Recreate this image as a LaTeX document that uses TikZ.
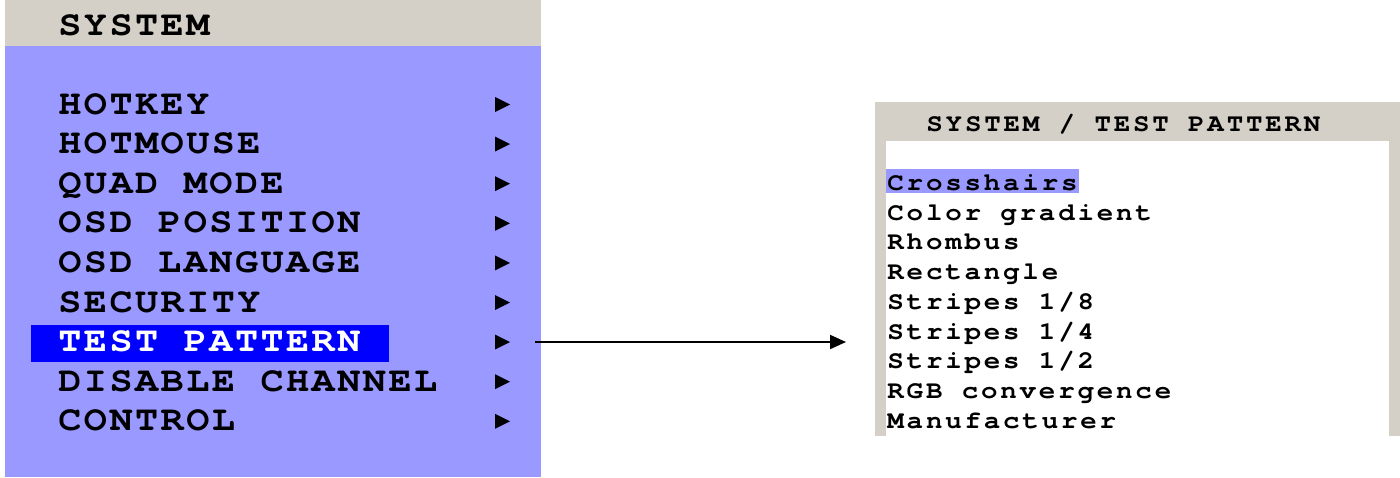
\documentclass[tikz,border=0pt]{standalone}
\usepackage{fontspec}
\usepackage{tikz}
\usetikzlibrary{arrows.meta}
\newfontfamily\osdbig{TeX Gyre Cursor}[FakeStretch=1.1,LetterSpace=7.1]
\newfontfamily\osdsmall{TeX Gyre Cursor}[FakeStretch=1.1,LetterSpace=11.2]
\definecolor{osdgray}{HTML}{D4D0C8}
\definecolor{osdblue}{HTML}{9999FF}
\definecolor{osdsel}{HTML}{0000FF}
\tikzset{
  bigitem/.style={anchor=base west,inner sep=0pt,font=\osdbig\bfseries\fontsize{17.5}{18}\selectfont},
  smallitem/.style={anchor=base west,inner sep=0pt,font=\osdsmall\bfseries\fontsize{12.5}{13}\selectfont},
  submark/.style={fill=black}
}
\begin{document}
\begin{tikzpicture}[x=0.5pt,y=-0.5pt]
				\useasboundingbox (0,0) rectangle (1400,477);
				% main menu
				\fill[osdgray] (5,0) rectangle (541,46);
				\fill[osdblue] (5,46) rectangle (541,477);
				\fill[osdsel] (31,325) rectangle (389,362);
				
				\node[bigitem] (title) at (58,35) {SYSTEM};
				\node[bigitem] (hotkey) at (58,114) {HOTKEY};
				\node[bigitem] (hotmouse) at (58,153.6) {HOTMOUSE};
				\node[bigitem] (quad) at (58,193.2) {QUAD MODE};
				\node[bigitem] (position) at (58,232.8) {OSD POSITION};
				\node[bigitem] (language) at (58,272.4) {OSD LANGUAGE};
				\node[bigitem] (security) at (58,312) {SECURITY};
				\node[bigitem,text=white] (pattern) at (58,351.6) {TEST PATTERN};
				\node[bigitem] (disable) at (58,391.2) {DISABLE CHANNEL};
				\node[bigitem] (control) at (58,430.8) {CONTROL};
				
				\foreach \y in {104.5,144.1,183.7,223.3,262.9,302.5,342.1,381.7,421.3}
					\fill[submark] (495,\y-7.5) -- (510,\y) -- (495,\y+7.5) -- cycle;
				
				% sub menu
				\fill[osdgray] (875,102) rectangle (1400,436);
				\fill[white] (886,141) rectangle (1389,436);
				\fill[osdblue] (886,169) rectangle (1079,193);
				
				\node[smallitem] (subtitle) at (926,131) {SYSTEM / TEST PATTERN};
				\node[smallitem] (cross) at (887,190.5) {Crosshairs};
				\node[smallitem] (gradient) at (887,220.2) {Color gradient};
				\node[smallitem] (rhombus) at (887,249.9) {Rhombus};
				\node[smallitem] (rect) at (887,279.6) {Rectangle};
				\node[smallitem] (eighth) at (887,309.3) {Stripes 1/8};
				\node[smallitem] (quarter) at (887,339) {Stripes 1/4};
				\node[smallitem] (half) at (887,368.7) {Stripes 1/2};
				\node[smallitem] (rgb) at (887,398.4) {RGB convergence};
				\node[smallitem] (maker) at (887,428.1) {Manufacturer};
				
				\coordinate (from) at (535,342);
				\coordinate (to) at (846,342);
				\draw[line width=1pt,-{Triangle[length=8pt,width=7pt]}] (from) -- (to);
			\end{tikzpicture}
\end{document}
